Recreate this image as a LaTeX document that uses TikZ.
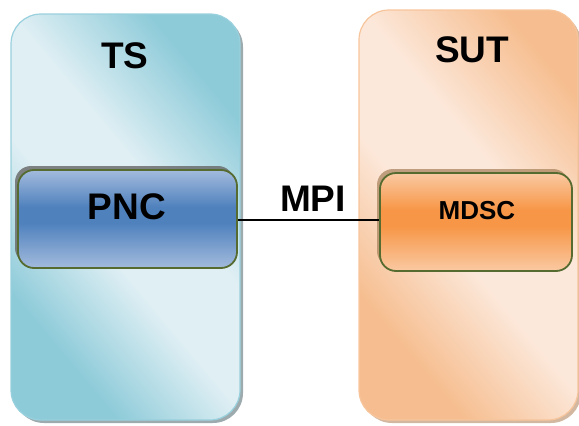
\documentclass[tikz,border=0pt]{standalone}
\usepackage{fontspec}
\setmainfont{Liberation Sans}
\usetikzlibrary{shadows}
\definecolor{tsdark}{HTML}{8ECBD9}
\definecolor{tslight}{HTML}{DFEFF4}
\definecolor{sutdark}{HTML}{F6BE90}
\definecolor{sutlight}{HTML}{FCE8DA}
\definecolor{pnclight}{HTML}{A3BBDD}
\definecolor{pncdark}{HTML}{4F81BD}
\definecolor{mdsclight}{HTML}{FAC9A2}
\definecolor{mdscdark}{HTML}{F79646}
\definecolor{olive}{HTML}{556B2F}
\pgfdeclarehorizontalshading{tsshade}{100bp}{color(0bp)=(tsdark); color(28bp)=(tsdark); color(44bp)=(tslight); color(57bp)=(tslight); color(74bp)=(tsdark); color(100bp)=(tsdark)}
\pgfdeclarehorizontalshading{sutshade}{100bp}{color(0bp)=(sutdark); color(28bp)=(sutdark); color(45bp)=(sutlight); color(58bp)=(sutlight); color(76bp)=(sutdark); color(100bp)=(sutdark)}
\pgfdeclareverticalshading{pncshade}{100bp}{color(0bp)=(pnclight); color(25bp)=(pnclight); color(48bp)=(pncdark); color(56bp)=(pncdark); color(75bp)=(pnclight); color(100bp)=(pnclight)}
\pgfdeclareverticalshading{mdscshade}{100bp}{color(0bp)=(mdsclight); color(25bp)=(mdsclight); color(48bp)=(mdscdark); color(56bp)=(mdscdark); color(75bp)=(mdsclight); color(100bp)=(mdsclight)}
\tikzset{
  outer/.style={rectangle, rounded corners=30pt, inner sep=0pt, line width=1.2pt},
  inner/.style={rectangle, rounded corners=16pt, inner sep=0pt, draw=olive, line width=1.8pt},
  lbl/.style={font=\bfseries\fontsize{37}{40}\selectfont, inner sep=0pt},
}
\begin{document}
\begin{tikzpicture}[x=1pt,y=-1pt]
\useasboundingbox (0,0) rectangle (579,426);
\node[outer, draw=tsdark!90!white, minimum width=229pt, minimum height=406pt,
  shading=tsshade, shading angle=40,
  drop shadow={shadow xshift=3pt, shadow yshift=-3pt, fill=gray!70!tsdark, opacity=0.8}] (ts) at (125.5,217) {};
\node[outer, draw=sutdark!90!white, minimum width=219pt, minimum height=410pt,
  shading=sutshade, shading angle=40,
  drop shadow={shadow xshift=3pt, shadow yshift=-3pt, fill=sutdark!60!gray, opacity=0.8}] (sut) at (468.5,215) {};
\node[inner, minimum width=219pt, minimum height=98pt, shading=pncshade,
  drop shadow={shadow xshift=-3pt, shadow yshift=4pt, fill=gray!80!black, opacity=0.8}] (pnc) at (127.5,219) {};
\node[inner, minimum width=192pt, minimum height=98pt, shading=mdscshade,
  drop shadow={shadow xshift=-3pt, shadow yshift=4pt, fill=brown!60!gray, opacity=0.7}] (mdsc) at (476,222) {};
\node[lbl] (tslbl) at (125,56) {TS};
\node[lbl] (sutlbl) at (472,50) {SUT};
\node[lbl] (pnclbl) at (127,207) {PNC};
\node[lbl, font=\bfseries\fontsize{26}{30}\selectfont] (mdsclbl) at (477,211) {MDSC};
\node[lbl] (mpilbl) at (313,199) {MPI};
\draw[line width=1.8pt] (pnc.east |- 0,220) -- (mdsc.west |- 0,220);
\end{tikzpicture}
\end{document}
